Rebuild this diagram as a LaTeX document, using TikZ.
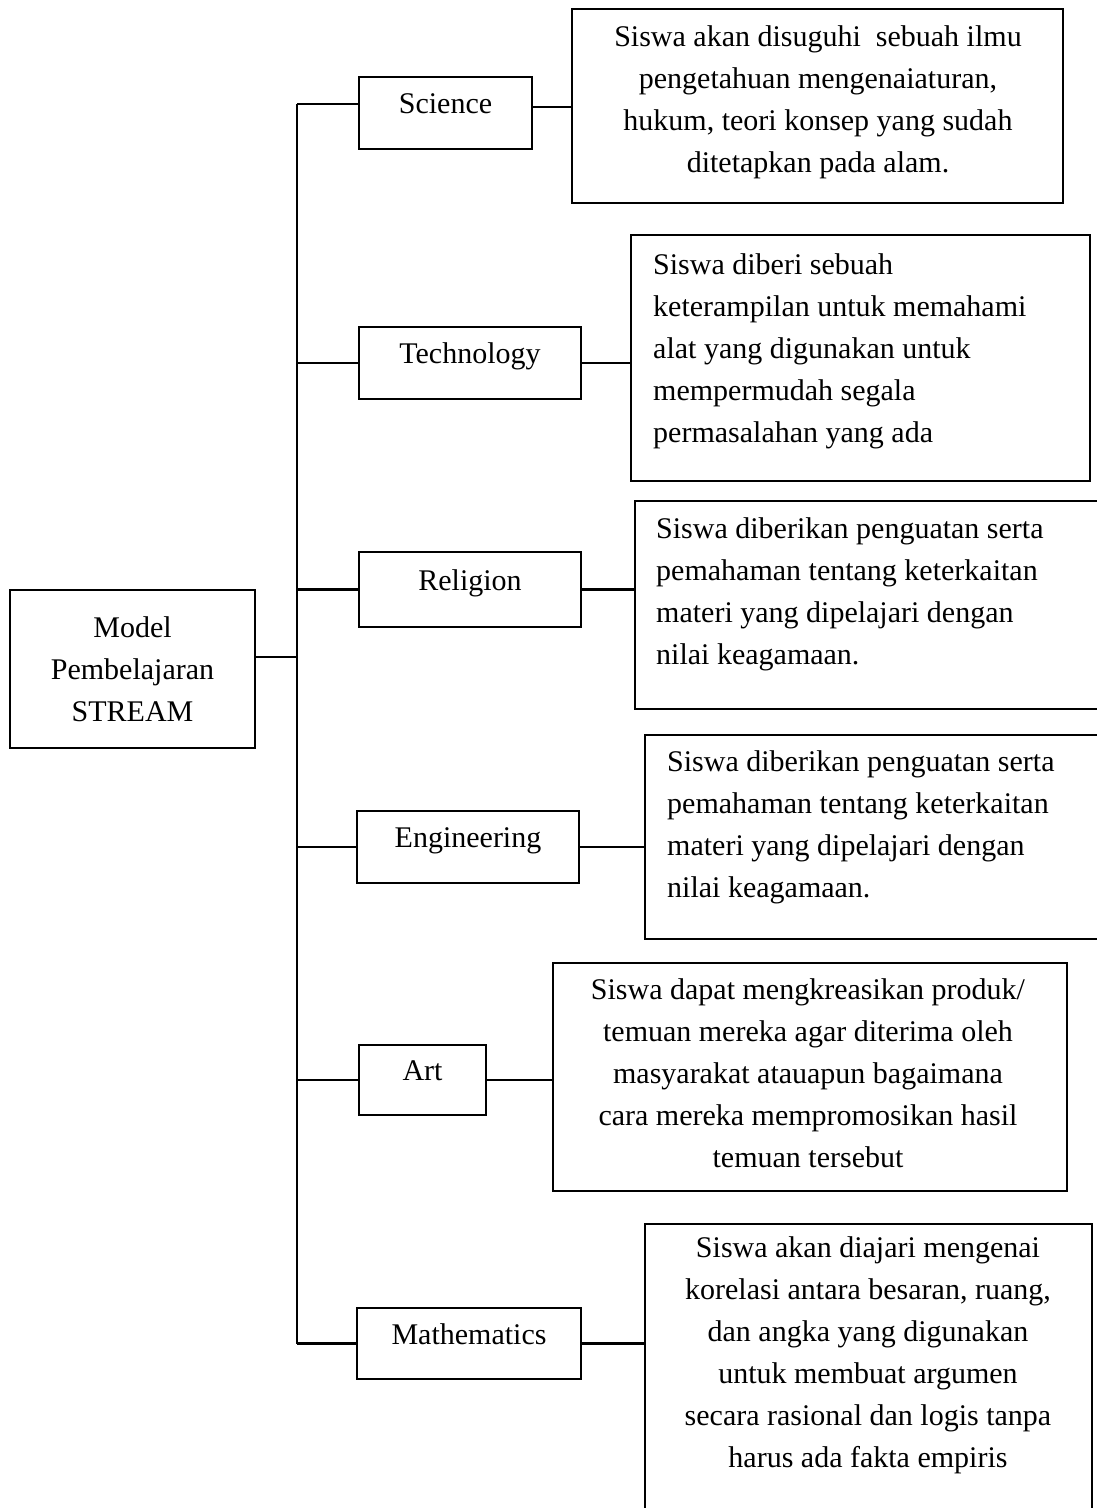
\documentclass[tikz,border=0pt]{standalone}
\usepackage{fontspec}
\setmainfont{Liberation Serif}
\usetikzlibrary{positioning}

\begin{document}
\begin{tikzpicture}[x=1pt,y=-1pt,line width=2.4pt,
  every node/.style={font=\fontsize{30}{42}\selectfont},
  mainbox/.style={draw,rectangle,align=center,minimum width=245pt,minimum height=158pt},
  labelbox/.style={draw,rectangle,minimum height=72pt,text height=0.7em,text depth=0.6em},
  descbox/.style={draw,rectangle,inner sep=0pt},
  desctext/.style={inner sep=0pt}]

  \useasboundingbox (0,0) rectangle (1097,1508);
  \clip (0,0) rectangle (1097,1508);

  \node[mainbox] (model) at (132.5,669) {Model\\Pembelajaran\\STREAM};

  \node[labelbox] (sci) [minimum width=173pt] at (445.5,113) {Science};
  \node[labelbox] (tech) [minimum width=222pt] at (470,363) {Technology};
  \node[labelbox] (rel) [minimum width=222pt,minimum height=75pt] at (470,589.5) {Religion};
  \node[labelbox] (eng) [minimum width=222pt] at (468,847) {Engineering};
  \node[labelbox] (art) [minimum width=127pt,minimum height=70pt] at (422.5,1080) {Art};
  \node[labelbox] (math) [minimum width=224pt,minimum height=71pt] at (469,1343.5) {Mathematics};

  \node[descbox] (sciD) [minimum width=491pt,minimum height=194pt] at (817.5,106) {};
  \node[descbox] (techD) [minimum width=459pt,minimum height=246pt] at (860.5,358) {};
  \node[descbox] (relD) [minimum width=475pt,minimum height=208pt] at (872.5,605) {};
  \node[descbox] (engD) [minimum width=465pt,minimum height=204pt] at (877.5,837) {};
  \node[descbox] (artD) [minimum width=514pt,minimum height=228pt] at (810,1077) {};
  \node[descbox] (mathD) [minimum width=447pt,minimum height=306pt] at (868.5,1377) {};

  \node[desctext,align=center] (sciT) at (818,102)
    {Siswa akan disuguhi \ sebuah ilmu\\pengetahuan mengenaiaturan,\\hukum, teori konsep yang sudah\\ditetapkan pada alam.};
  \node[desctext,align=left,anchor=west] (techT) at (652,351)
    {Siswa diberi sebuah\\keterampilan untuk memahami\\alat yang digunakan untuk\\mempermudah segala\\permasalahan yang ada};
  \node[desctext,align=left,anchor=west] (relT) at (655,594)
    {Siswa diberikan penguatan serta\\pemahaman tentang keterkaitan\\materi yang dipelajari dengan\\nilai keagamaan.};
  \node[desctext,align=left,anchor=west] (engT) at (666,827.5)
    {Siswa diberikan penguatan serta\\pemahaman tentang keterkaitan\\materi yang dipelajari dengan\\nilai keagamaan.};
  \node[desctext,align=center] (artT) at (808,1073)
    {Siswa dapat mengkreasikan produk/\\temuan mereka agar diterima oleh\\masyarakat atauapun bagaimana\\cara mereka mempromosikan hasil\\temuan tersebut};
  \node[desctext,align=center] (mathT) at (868,1355)
    {Siswa akan diajari mengenai\\korelasi antara besaran, ruang,\\dan angka yang digunakan\\untuk membuat argumen\\secara rasional dan logis tanpa\\harus ada fakta empiris};

  \coordinate (top) at (297,104);
  \coordinate (bot) at (math.west -| top);

  \draw (top) -- (bot);
  \draw ([yshift=12pt]model.east) -- ([yshift=12pt]model.east -| top);

  \path
    ([yshift=9pt]sci.west -| top) edge ([yshift=9pt]sci.west)
    (tech.west -| top) edge (tech.west)
    (rel.west -| top) edge (rel.west)
    (eng.west -| top) edge (eng.west)
    (art.west -| top) edge (art.west)
    (bot) edge (math.west);

  \path
    ([yshift=6pt]sci.east) edge ([yshift=6pt]sci.east -| sciD.west)
    (tech.east) edge (tech.east -| techD.west)
    (rel.east) edge (rel.east -| relD.west)
    (eng.east) edge (eng.east -| engD.west)
    (art.east) edge (art.east -| artD.west)
    (math.east) edge (math.east -| mathD.west);

\end{tikzpicture}
\end{document}
